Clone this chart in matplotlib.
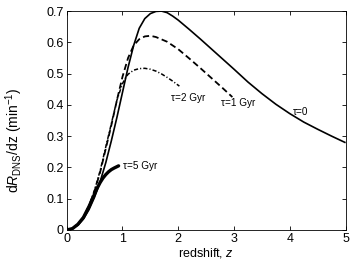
import numpy as np
import matplotlib
matplotlib.use("Agg")
import matplotlib.pyplot as plt

plt.rcParams['font.family'] = ['Liberation Sans', 'DejaVu Sans']
plt.rcParams['mathtext.fontset'] = 'custom'
plt.rcParams['mathtext.rm'] = 'Liberation Sans'
plt.rcParams['mathtext.it'] = 'Liberation Sans:italic'
plt.rcParams['lines.scale_dashes'] = False

# tau = 0
z_tau0 = [0, 0.1, 0.2, 0.3, 0.4, 0.5, 0.6, 0.7, 0.8, 0.9, 1.0, 1.1, 1.2, 1.3, 1.4,
          1.5, 1.6, 1.7, 1.8, 1.9, 2.0, 2.2, 2.4, 2.6, 2.8, 3.0, 3.25, 3.5, 3.75,
          4.0, 4.25, 4.5, 4.75, 5.0]
r_tau0 = [0, 0.004, 0.015, 0.035, 0.065, 0.105, 0.155, 0.215, 0.285, 0.36, 0.44,
          0.52, 0.59, 0.645, 0.676, 0.692, 0.699, 0.70, 0.695, 0.684, 0.671, 0.641,
          0.61, 0.578, 0.546, 0.514, 0.473, 0.436, 0.402, 0.372, 0.345, 0.322,
          0.30, 0.279]

# tau = 1 Gyr
z_tau1 = [0, 0.1, 0.2, 0.3, 0.4, 0.5, 0.6, 0.7, 0.8, 0.9, 1.0, 1.1, 1.2, 1.3, 1.4,
          1.5, 1.6, 1.8, 2.0, 2.2, 2.4, 2.6, 2.8, 2.97]
r_tau1 = [0, 0.005, 0.018, 0.04, 0.076, 0.125, 0.185, 0.26, 0.335, 0.415, 0.49,
          0.55, 0.59, 0.61, 0.619, 0.621, 0.617, 0.602, 0.578, 0.548, 0.517, 0.485,
          0.453, 0.425]

# tau = 2 Gyr
z_tau2 = [0, 0.1, 0.2, 0.3, 0.4, 0.5, 0.6, 0.7, 0.8, 0.9, 1.0, 1.05, 1.1, 1.2, 1.3,
          1.4, 1.5, 1.6, 1.7, 1.8, 1.9, 2.02]
r_tau2 = [0, 0.005, 0.018, 0.041, 0.078, 0.128, 0.19, 0.265, 0.34, 0.415, 0.468,
          0.485, 0.498, 0.511, 0.516, 0.517, 0.514, 0.508, 0.499, 0.488, 0.476,
          0.46]

# tau = 5 Gyr
z_tau5 = [0, 0.1, 0.2, 0.3, 0.4, 0.45, 0.5, 0.55, 0.6, 0.65, 0.7, 0.75, 0.8, 0.85,
          0.93]
r_tau5 = [0, 0.004, 0.018, 0.04, 0.075, 0.095, 0.115, 0.135, 0.152, 0.166, 0.177,
          0.186, 0.193, 0.198, 0.205]

x_ticks = [0, 1, 2, 3, 4, 5]
y_ticks = [0, 0.1, 0.2, 0.3, 0.4, 0.5, 0.6, 0.7]
y_tick_labels = ['0', '0.1', '0.2', '0.3', '0.4', '0.5', '0.6', '0.7']

labels = ['\u03c4=0', '\u03c4=1 Gyr', '\u03c4=2 Gyr', '\u03c4=5 Gyr']
label_pos = [(4.05, 0.376), (2.77, 0.407), (1.875, 0.421), (1.005, 0.204)]

fig = plt.figure(figsize=(3.53, 2.64), dpi=100)
ax = fig.add_axes([0.189, 0.129, 0.790, 0.829])

ax.plot(z_tau0, r_tau0, color='k', lw=1.2, solid_capstyle='butt')
ax.plot(z_tau1, r_tau1, color='k', lw=1.3, dashes=(4.5, 2.5))
ax.plot(z_tau2, r_tau2, color='k', lw=1.1, dashes=(3.0, 1.5, 0.8, 1.5))
ax.plot(z_tau5, r_tau5, color='k', lw=2.4, solid_capstyle='round')

for txt, (lx, ly) in zip(labels, label_pos):
    ax.text(lx, ly, txt, fontsize=7.2, ha='left', va='center')

ax.set_xlim(0, 5)
ax.set_ylim(0, 0.7)
ax.set_xticks(x_ticks)
ax.set_yticks(y_ticks)
ax.set_yticklabels(y_tick_labels)
ax.tick_params(direction='in', length=3, width=0.6, labelsize=9, pad=2,
               top=True, right=True)
for s in ax.spines.values():
    s.set_linewidth(0.6)

ax.set_xlabel('redshift, $z$', fontsize=9, labelpad=1)
ax.set_ylabel(r'd$R_{\mathrm{DNS}}$/dz (min$^{-1}$)', fontsize=10)
ax.yaxis.set_label_coords(-0.15, 0.41)

fig.savefig('out.png', dpi=100)
